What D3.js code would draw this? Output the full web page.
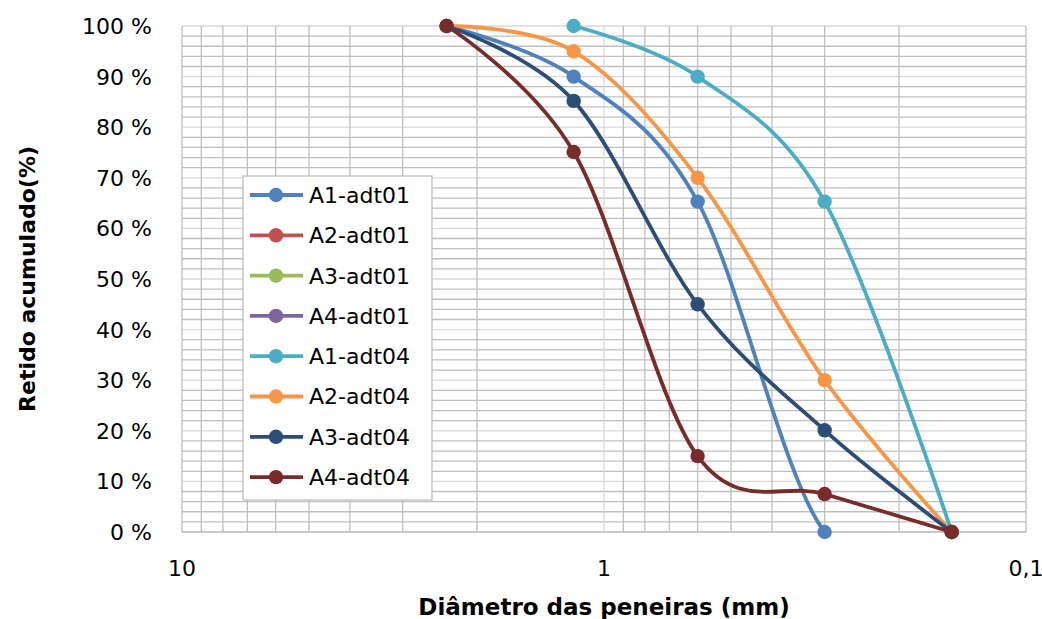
<!DOCTYPE html>
<html>
<head>
<meta charset="utf-8">
<script src="https://cdn.jsdelivr.net/npm/d3@7.9.0/dist/d3.min.js"></script>
<style>
  body { margin: 0; background: #fff; }
  svg { display: block; font-family: "Century Gothic", "DejaVu Sans", sans-serif; }
</style>
</head>
<body>
<svg id="chart" width="1042" height="619"></svg>
<script>
// sieve sizes (mm) and cumulative retained (%)
const sieves = [2.36, 1.18, 0.6, 0.3, 0.15];
const seriesNames = ['A1-adt01','A2-adt01','A3-adt01','A4-adt01','A1-adt04','A2-adt04','A3-adt04','A4-adt04'];
const seriesColors = ['#4F81BD','#C0504D','#9BBB59','#8064A2','#4BACC6','#F79646','#2C4D75','#772C2A'];
const a1adt01 = [100, 90, 65.3, 0, 0];
const a2adt01 = [null, null, null, null, null];
const a3adt01 = [null, null, null, null, null];
const a4adt01 = [null, null, null, null, null];
const a1adt04 = [null, 100, 90, 65.3, 0];
const a2adt04 = [100, 95, 70, 30, 0];
const a3adt04 = [100, 85.2, 45, 20.1, 0];
const a4adt04 = [100, 75.1, 15, 7.5, 0];
const seriesValues = [a1adt01, a2adt01, a3adt01, a4adt01, a1adt04, a2adt04, a3adt04, a4adt04];
const yTicks = [0,10,20,30,40,50,60,70,80,90,100];
const xTickLabels = ['10','1','0,1'];

const svg = d3.select('#chart');
const pLeft = 182, pRight = 1026, pTop = 26, pBottom = 532;

const x = d3.scaleLog().domain([10, 0.1]).range([pLeft, pRight]);
const y = d3.scaleLinear().domain([0, 100]).range([pBottom, pTop]);

// gridlines
const minorY = d3.range(0, 101, 2).filter(v => v % 10 !== 0);
svg.append('g').selectAll('line').data(minorY).join('line')
  .attr('x1', pLeft).attr('x2', pRight)
  .attr('y1', d => y(d)).attr('y2', d => y(d))
  .attr('stroke', '#BFBFBF').attr('stroke-width', 1.3);
svg.append('g').selectAll('line').data(yTicks).join('line')
  .attr('x1', pLeft).attr('x2', pRight)
  .attr('y1', d => y(d)).attr('y2', d => y(d))
  .attr('stroke', '#D9D9D9').attr('stroke-width', 1.3);

const minorX = [];
[1, 0.1].forEach(base => { for (let k = 2; k <= 9; k++) minorX.push(base * k); });
svg.append('g').selectAll('line').data(minorX).join('line')
  .attr('x1', d => x(d)).attr('x2', d => x(d))
  .attr('y1', pTop).attr('y2', pBottom)
  .attr('stroke', '#BFBFBF').attr('stroke-width', 1.3);
svg.append('g').selectAll('line').data([10, 1, 0.1]).join('line')
  .attr('x1', d => x(d)).attr('x2', d => x(d))
  .attr('y1', pTop).attr('y2', pBottom)
  .attr('stroke', d => d === 1 ? '#D9D9D9' : '#BFBFBF').attr('stroke-width', 1.3);
svg.append('line').attr('x1', pLeft).attr('x2', pRight).attr('y1', pBottom).attr('y2', pBottom)
  .attr('stroke', '#BFBFBF').attr('stroke-width', 1.3);

// axes labels
svg.append('g').selectAll('text').data(yTicks).join('text')
  .attr('x', 152).attr('y', d => y(d)).attr('dy', '0.36em')
  .attr('text-anchor', 'end').attr('font-size', 22).attr('fill', '#000')
  .text(d => d + ' %');
svg.append('g').selectAll('text').data([10, 1, 0.1]).join('text')
  .attr('x', d => x(d)).attr('y', 576)
  .attr('text-anchor', 'middle').attr('font-size', 22).attr('fill', '#000')
  .text((d, i) => xTickLabels[i]);

svg.append('text').attr('x', 604).attr('y', 615).attr('text-anchor', 'middle')
  .attr('font-size', 23).attr('font-weight', 'bold').text('Diâmetro das peneiras (mm)');
svg.append('text').attr('transform', 'translate(35,279) rotate(-90)').attr('text-anchor', 'middle')
  .attr('font-size', 22).attr('font-weight', 'bold').text('Retido acumulado(%)');

// series
svg.append('clipPath').attr('id', 'plotclip').append('rect')
  .attr('x', pLeft).attr('y', pTop - 4).attr('width', pRight - pLeft).attr('height', pBottom - pTop + 4);

const line = d3.line()
  .defined(d => d[1] !== null)
  .x(d => x(d[0])).y(d => y(d[1]))
  .curve(d3.curveCatmullRom.alpha(0));

seriesValues.forEach((vals, i) => {
  const pts = sieves.map((s, j) => [s, vals[j]]);
  const g = svg.append('g');
  g.append('path').attr('d', line(pts)).attr('fill', 'none')
    .attr('stroke', seriesColors[i]).attr('stroke-width', 3.8)
    .attr('clip-path', 'url(#plotclip)');
  g.selectAll('circle').data(pts.filter(d => d[1] !== null)).join('circle')
    .attr('cx', d => x(d[0])).attr('cy', d => y(d[1])).attr('r', 7.2)
    .attr('fill', seriesColors[i]);
});

// legend
const lg = svg.append('g');
lg.append('rect').attr('x', 243).attr('y', 176).attr('width', 189).attr('height', 324)
  .attr('fill', '#fff').attr('stroke', '#BFBFBF').attr('stroke-width', 1.3);
seriesNames.forEach((name, i) => {
  const cy = 195 + i * 40.3;
  lg.append('line').attr('x1', 250).attr('x2', 303).attr('y1', cy).attr('y2', cy)
    .attr('stroke', seriesColors[i]).attr('stroke-width', 3.8);
  lg.append('circle').attr('cx', 276).attr('cy', cy).attr('r', 7.2).attr('fill', seriesColors[i]);
  lg.append('text').attr('x', 309).attr('y', cy).attr('dy', '0.36em')
    .attr('font-size', 22).text(name);
});
</script>
</body>
</html>
